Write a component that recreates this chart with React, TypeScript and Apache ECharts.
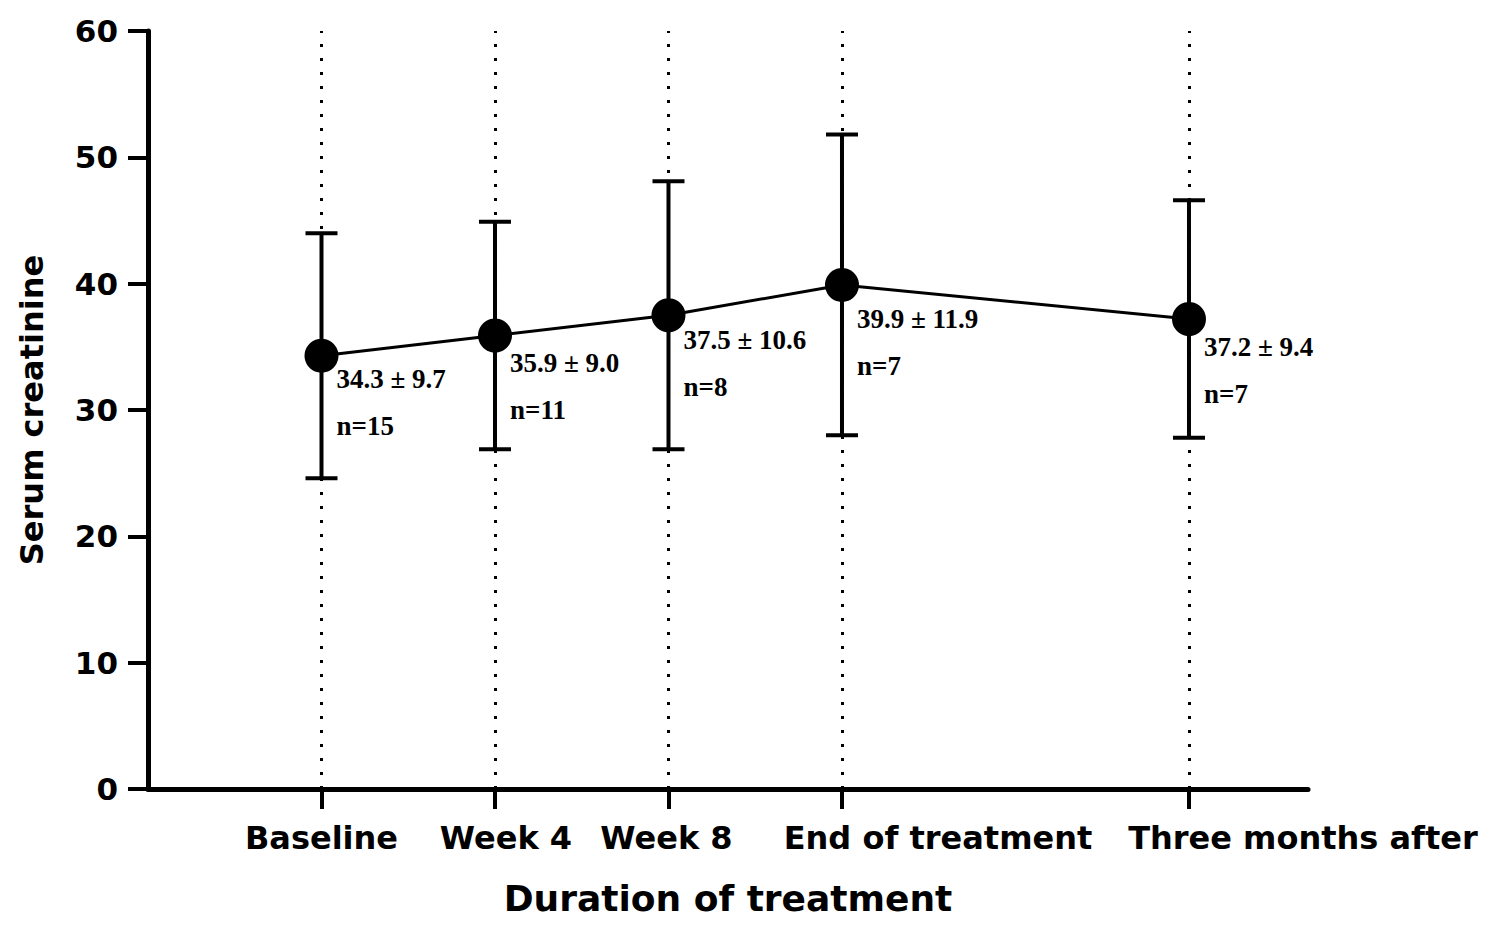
import React, { useEffect, useRef } from "react";
import * as echarts from "echarts";

const categories = ["Baseline", "Week 4", "Week 8", "End of treatment", "Three months after"];
const positions = [1, 2, 3, 4, 6];
const means = [34.3, 35.9, 37.5, 39.9, 37.2];
const sds = [9.7, 9.0, 10.6, 11.9, 9.4];
const ns = [15, 11, 8, 7, 7];
const yTicks = [0, 10, 20, 30, 40, 50, 60];

// styling offsets (px)
const labelDy = [23, 28, 25, 34, 28];
const catDx = [0, 11, -2, 96, 114];

const SANS = "'DejaVu Sans', Arial, sans-serif";
const SERIF = "'Liberation Serif', 'Times New Roman', serif";

export default function App() {
  const ref = useRef<HTMLDivElement>(null);

  useEffect(() => {
    if (!ref.current) return;
    const chart = echarts.init(ref.current, null, { renderer: "svg" });

    const lineData = positions.map((p, i) => [p, means[i]]);
    const errData = positions.map((p, i) => [p, means[i] - sds[i], means[i] + sds[i]]);
    const catData = positions.map((p) => [p, 0]);

    const option: any = {
      animation: false,
      backgroundColor: "#ffffff",
      grid: { left: 148, top: 31, width: 1160, height: 758, containLabel: false },
      xAxis: {
        type: "value",
        min: 0,
        max: 6.686,
        name: "Duration of treatment",
        nameLocation: "middle",
        nameGap: 91,
        nameTextStyle: { fontFamily: SANS, fontWeight: "bold", fontSize: 36, color: "#000" },
        axisLine: { show: true, onZero: false, lineStyle: { color: "#000", width: 5 } },
        axisTick: { show: true, customValues: positions, length: 20, lineStyle: { color: "#000", width: 4 } },
        axisLabel: { show: false },
        splitLine: { show: false },
      },
      yAxis: {
        type: "value",
        min: yTicks[0],
        max: yTicks[yTicks.length - 1],
        interval: 10,
        name: "Serum creatinine",
        nameLocation: "middle",
        nameGap: 100,
        nameRotate: 90,
        nameTextStyle: { fontFamily: SANS, fontWeight: "bold", fontSize: 32, color: "#000" },
        axisLine: { show: true, lineStyle: { color: "#000", width: 5 } },
        axisTick: { show: true, length: 20, lineStyle: { color: "#000", width: 4 } },
        axisLabel: { margin: 30, fontFamily: SANS, fontWeight: "bold", fontSize: 31, color: "#000" },
        splitLine: { show: false },
      },
      series: [
        {
          type: "custom",
          name: "err",
          z: 3,
          silent: true,
          data: errData,
          renderItem: (params: any, api: any) => {
            const x = api.value(0);
            const lo = api.coord([x, api.value(1)]);
            const hi = api.coord([x, api.value(2)]);
            const half = 16;
            const st = { stroke: "#000", lineWidth: 4 };
            return {
              type: "group",
              children: [
                { type: "line", shape: { x1: lo[0], y1: lo[1], x2: hi[0], y2: hi[1] }, style: st },
                { type: "line", shape: { x1: lo[0] - half, y1: lo[1], x2: lo[0] + half, y2: lo[1] }, style: st },
                { type: "line", shape: { x1: hi[0] - half, y1: hi[1], x2: hi[0] + half, y2: hi[1] }, style: st },
              ],
            };
          },
        },
        {
          type: "line",
          name: "mean",
          z: 4,
          data: lineData,
          symbol: "circle",
          symbolSize: 34,
          itemStyle: { color: "#000" },
          lineStyle: { color: "#000", width: 3 },
          markLine: {
            silent: true,
            symbol: ["none", "none"],
            label: { show: false },
            lineStyle: { color: "#000", width: 3, type: [3, 11] },
            data: positions.map((p) => ({ xAxis: p })),
          },
        },
        {
          type: "custom",
          name: "labels",
          z: 5,
          silent: true,
          data: lineData,
          renderItem: (params: any, api: any) => {
            const i = params.dataIndex;
            const pt = api.coord([api.value(0), api.value(1)]);
            const base = {
              fontFamily: SERIF,
              fontWeight: "bold",
              fontSize: 27,
              fill: "#000",
              align: "left",
              verticalAlign: "middle",
            };
            return {
              type: "group",
              children: [
                {
                  type: "text",
                  x: pt[0] + 15,
                  y: pt[1] + labelDy[i],
                  style: { ...base, text: `${means[i].toFixed(1)} ± ${sds[i].toFixed(1)}` },
                },
                {
                  type: "text",
                  x: pt[0] + 15,
                  y: pt[1] + labelDy[i] + 47,
                  style: { ...base, text: `n=${ns[i]}` },
                },
              ],
            };
          },
        },
        {
          type: "custom",
          name: "categories",
          z: 5,
          silent: true,
          clip: false,
          data: catData,
          renderItem: (params: any, api: any) => {
            const i = params.dataIndex;
            const pt = api.coord([api.value(0), api.value(1)]);
            return {
              type: "text",
              x: pt[0] + catDx[i],
              y: pt[1] + 49,
              style: {
                text: categories[i],
                fontFamily: SANS,
                fontWeight: "bold",
                fontSize: 32,
                fill: "#000",
                align: "center",
                verticalAlign: "middle",
              },
            };
          },
        },
      ],
    };

    chart.setOption(option);
    return () => chart.dispose();
  }, []);

  return (
    <div
      ref={ref}
      style={{ position: "absolute", left: 0, top: 0, width: 1500, height: 931, background: "#fff" }}
    />
  );
}
